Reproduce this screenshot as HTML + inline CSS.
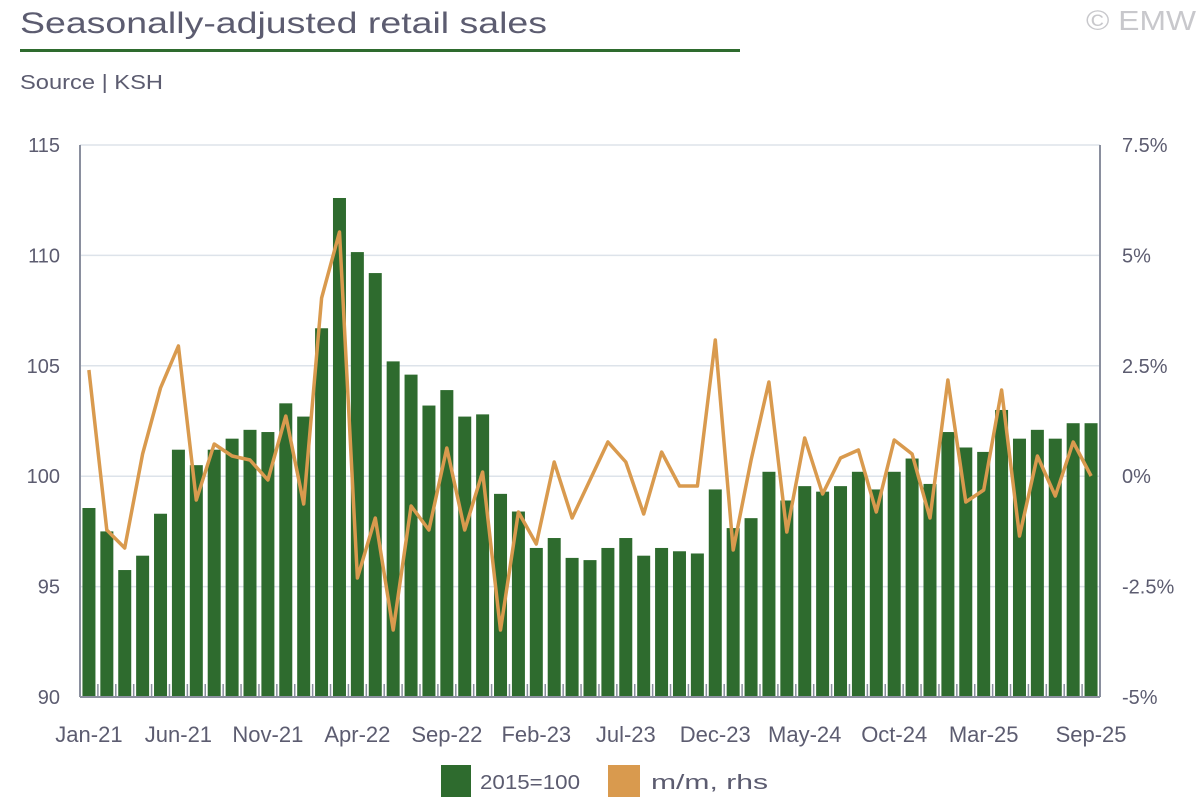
<!DOCTYPE html>
<html><head><meta charset="utf-8"><style>
body{margin:0;background:#fff;width:1200px;height:800px;overflow:hidden;font-family:"Liberation Sans",sans-serif}
</style></head><body>
<svg id="s" width="1200" height="800" xmlns="http://www.w3.org/2000/svg" font-family="Liberation Sans, sans-serif">
<text x="20" y="33" font-size="30" fill="#5c5c70" textLength="527" lengthAdjust="spacingAndGlyphs">Seasonally-adjusted retail sales</text>
<rect x="20" y="49" width="720" height="3" fill="#2e6b2e"/>
<text x="20" y="89" font-size="20" fill="#5c5c70" textLength="143" lengthAdjust="spacingAndGlyphs">Source | KSH</text>
<text x="1086" y="30" font-size="28" fill="#c8c8cc" textLength="110" lengthAdjust="spacingAndGlyphs">© EMW</text>
<g id="g"></g>
<rect x="441" y="765" width="30" height="32" fill="#2e6b2e"/>
<text x="480" y="789" font-size="20" fill="#5c5c70" textLength="100" lengthAdjust="spacingAndGlyphs">2015=100</text>
<rect x="608" y="765" width="32" height="32" fill="#d99a4e"/>
<text x="651" y="789" font-size="20" fill="#5c5c70" textLength="117" lengthAdjust="spacingAndGlyphs">m/m, rhs</text>
</svg>
<script>
var bars=[98.56,97.5,95.75,96.4,98.3,101.2,100.5,101.2,101.7,102.1,102.0,103.3,102.7,106.7,112.6,110.15,109.2,105.2,104.6,103.2,103.9,102.7,102.8,99.2,98.4,96.75,97.2,96.3,96.2,96.75,97.2,96.4,96.75,96.6,96.5,99.4,97.65,98.1,100.2,98.9,99.55,99.3,99.55,100.2,99.4,100.2,100.8,99.65,102.0,101.3,101.1,103.0,101.7,102.1,101.7,102.4,102.4];
var ly=[370,530,548,454,388,346,500,444,456,460,480,416,504,298,232,578,518,630,506,530,448,530,472,630,512,544,462,518,480,442,462,514,452,486,486,340,550,460,382,532,438,494,458,450,512,440,454,518,380,502,490,390,536,456,496,442,476];
var h='',L=80,R=1100,T=145,B=697,step=(R-L)/57;
[115,110,105,100,95].forEach(function(v,i){var y=T+(115-v)*22.08;h+='<line x1="80" x2="1100" y1="'+y+'" y2="'+y+'" stroke="#dde3ea" stroke-width="1.5"/>';});
var lv=['115','110','105','100','95','90'],rv=['7.5%','5%','2.5%','0%','-2.5%','-5%'];
for(var i=0;i<6;i++){var y=T+i*110.4+7;h+='<text x="60" y="'+y+'" font-size="20" fill="#5c5c70" text-anchor="end">'+lv[i]+'</text><text x="1122" y="'+y+'" font-size="20" fill="#5c5c70">'+rv[i]+'</text>';}
for(var i=0;i<57;i++){var cx=L+step*(i+0.5),y=T+(115-bars[i])*22.08;h+='<rect x="'+(cx-6.5)+'" y="'+y+'" width="13" height="'+(B-y)+'" fill="#2e6b2e"/>';
if(i>0)h+='<line x1="'+(L+step*i)+'" x2="'+(L+step*i)+'" y1="684" y2="697" stroke="#8a8f9e" stroke-width="1.5"/>';}
var pts=ly.map(function(y,i){return (L+step*(i+0.5)).toFixed(1)+','+y}).join(' ');
h+='<polyline points="'+pts+'" fill="none" stroke="#d99a4e" stroke-width="3.5" stroke-linejoin="round"/>';
h+='<line x1="80" x2="80" y1="145" y2="697" stroke="#8a8f9e" stroke-width="2"/><line x1="1100" x2="1100" y1="145" y2="697" stroke="#8a8f9e" stroke-width="2"/><line x1="80" x2="1100" y1="697" y2="697" stroke="#8a8f9e" stroke-width="2"/>';
var xl=['Jan-21','Jun-21','Nov-21','Apr-22','Sep-22','Feb-23','Jul-23','Dec-23','May-24','Oct-24','Mar-25'];
xl.forEach(function(t,k){h+='<text x="'+(L+step*(k*5+0.5))+'" y="742" font-size="22" fill="#5c5c70" text-anchor="middle">'+t+'</text>';});
h+='<text x="'+(L+step*56.5)+'" y="742" font-size="22" fill="#5c5c70" text-anchor="middle">Sep-25</text>';
document.getElementById('g').innerHTML=h;
</script>
</body></html>
